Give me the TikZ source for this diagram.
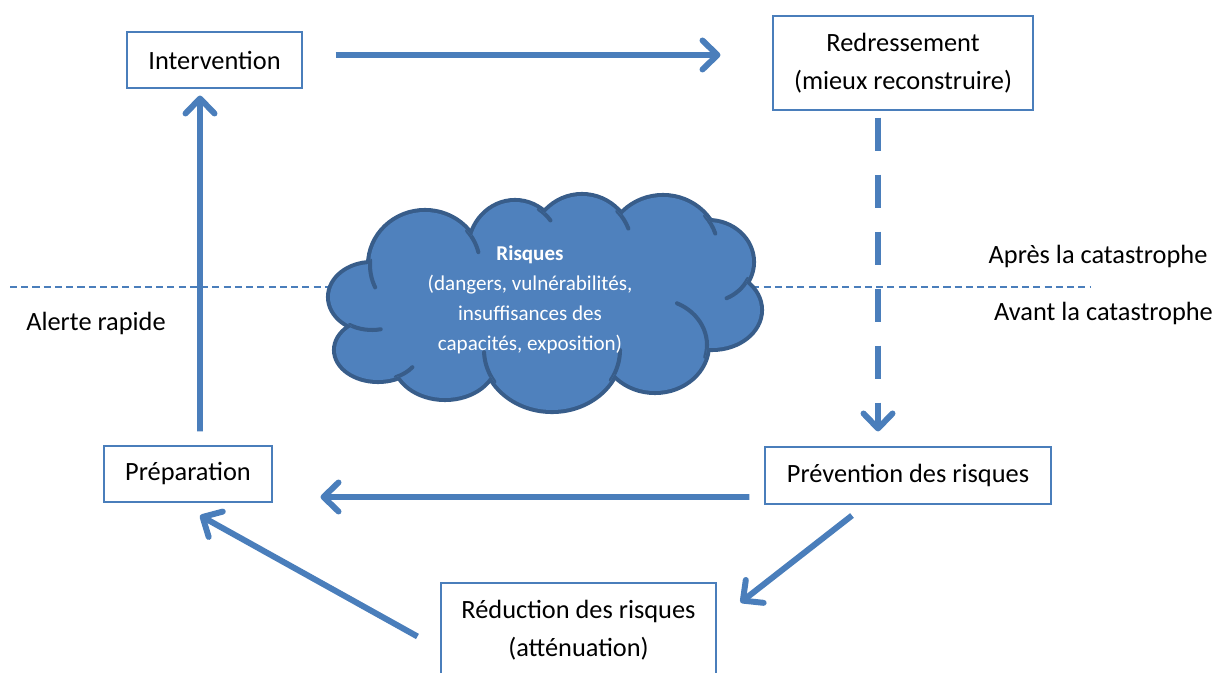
\documentclass[tikz,border=0pt]{standalone}
\usepackage{fontspec}
\setmainfont{Carlito}
\usetikzlibrary{arrows.meta}
\definecolor{bluearrow}{HTML}{4A7EBB}
\definecolor{cloudfill}{HTML}{4F81BD}
\definecolor{cloudline}{HTML}{385D8A}
% puffs of the cloud: x/y/rx/ry
\newcommand\riskpuffs{7.44/7.52/0.84/0.66, 7.56/6.46/0.84/0.6, 8.9/6.26/1.0/0.76, 11.04/6.46/1.36/1.2,
  13.1/6.56/1.04/0.92, 14.24/7.26/0.96/0.76, 14.16/8.22/0.88/0.8, 13.26/8.46/1.1/1.06,
  11.64/8.5/1.0/1.04, 10.3/8.46/0.9/0.96, 8.5/8.16/1.1/1.06, 10.9/7.46/3.8/1.4}
% inner arcs of the cloud: x/y/rx/ry/from/to
\newcommand\riskstubs{8.5/8.16/1.1/1.06/40/14, 8.5/8.16/1.1/1.06/175/205, 7.44/7.52/0.84/0.66/238/282,
  7.56/6.46/0.84/0.6/295/325, 11.04/6.46/1.36/1.2/212/182, 11.04/6.46/1.36/1.2/-30/0,
  13.1/6.56/1.04/0.92/-15/65, 14.16/8.22/0.88/0.8/-25/-65, 13.26/8.46/1.1/1.06/40/18,
  11.64/8.5/1.0/1.04/45/22, 10.3/8.46/0.9/0.96/58/38}
\begin{document}
\begin{tikzpicture}[>={Straight Barb[length=0.3cm,width=0.58cm,line cap=round,line join=round]},
    box/.style={draw=bluearrow,line width=0.6pt,align=center,inner sep=0pt,font=\fontsize{15}{21.5}\selectfont},
    flow/.style={->,draw=bluearrow,line width=3.4pt},
    lbl/.style={font=\fontsize{15}{18}\selectfont},
    stub/.style={draw=cloudline,line width=2.3pt,line cap=round}]
        \useasboundingbox (0,0) rectangle (24.34,13.46);
        % before / after line
        \coordinate (lineL) at (0.2,7.72);
        \coordinate (lineR) at (21.8,7.72);
        \draw[bluearrow,line width=1pt,dash pattern=on 4pt off 2.4pt] (lineL)--(lineR);
        % the cloud
        \foreach \px/\py/\rx/\ry in \riskpuffs
          \draw[cloudline,line width=4.6pt] (\px,\py) ellipse [x radius=\rx, y radius=\ry];
        \fill[cloudfill] \foreach \px/\py/\rx/\ry in \riskpuffs {(\px,\py) ellipse [x radius=\rx, y radius=\ry]};
        \begin{scope}
          \clip \foreach \px/\py/\rx/\ry in \riskpuffs {(\px,\py) ellipse [x radius=\rx, y radius=\ry]};
          \foreach \px/\py/\rx/\ry/\a/\b in \riskstubs
            \draw[stub] (\px,\py) ++(\a:\rx cm and \ry cm) arc[start angle=\a,end angle=\b,x radius=\rx,y radius=\ry];
        \end{scope}
        \node[text=white,align=center,font=\fontsize{12}{17}\selectfont] (risk) at (10.6,7.46) {\textbf{Risques}\\(dangers, vulnérabilités,\\insuffisances des\\capacités, exposition)};
        % the boxes
        \node[box,minimum width=3.5cm,minimum height=1.12cm] (int) at (4.29,12.26) {Intervention};
        \node[box,minimum width=5.2cm,minimum height=1.88cm] (red) at (18.06,12.2) {Redressement\\(mieux reconstruire)};
        \node[box,minimum width=3.36cm,minimum height=1.12cm] (prep) at (3.76,3.98) {Préparation};
        \node[box,minimum width=5.72cm,minimum height=1.14cm] (prev) at (18.16,3.95) {Prévention des risques};
        \node[box,minimum width=5.5cm,minimum height=1.9cm] (redu) at (11.57,0.85) {Réduction des risques\\(atténuation)};
        % side labels
        \node[lbl] (alert) at (1.92,7.0) {Alerte rapide};
        \node[lbl] (apres) at (21.96,8.34) {Après la catastrophe};
        \node[lbl] (avant) at (22.07,7.2) {Avant la catastrophe};
        % the cycle
        \draw[flow] ([shift={(0.66,0.1)}]int.east)--([shift={(-1.04,0.16)}]red.west);
        \draw[flow,dash pattern=on 0.66cm off 0.48cm] ([shift={(-0.5,-0.14)}]red.south)--([shift={(-0.6,0.3)}]prev.north);
        \draw[flow] ([shift={(-0.3,-0.43)}]prev.west)--([shift={(0.96,-0.46)}]prep.east);
        \draw[flow] ([shift={(-1.12,-0.22)}]prev.south)--([shift={(0.48,-0.4)}]redu.north east);
        \draw[flow] ([shift={(-0.46,-1.08)}]redu.north west)--([shift={(0.24,-0.26)}]prep.south);
        \draw[flow] ([shift={(0.24,0.28)}]prep.north)--([shift={(-0.29,-0.14)}]int.south);
\end{tikzpicture}
\end{document}
